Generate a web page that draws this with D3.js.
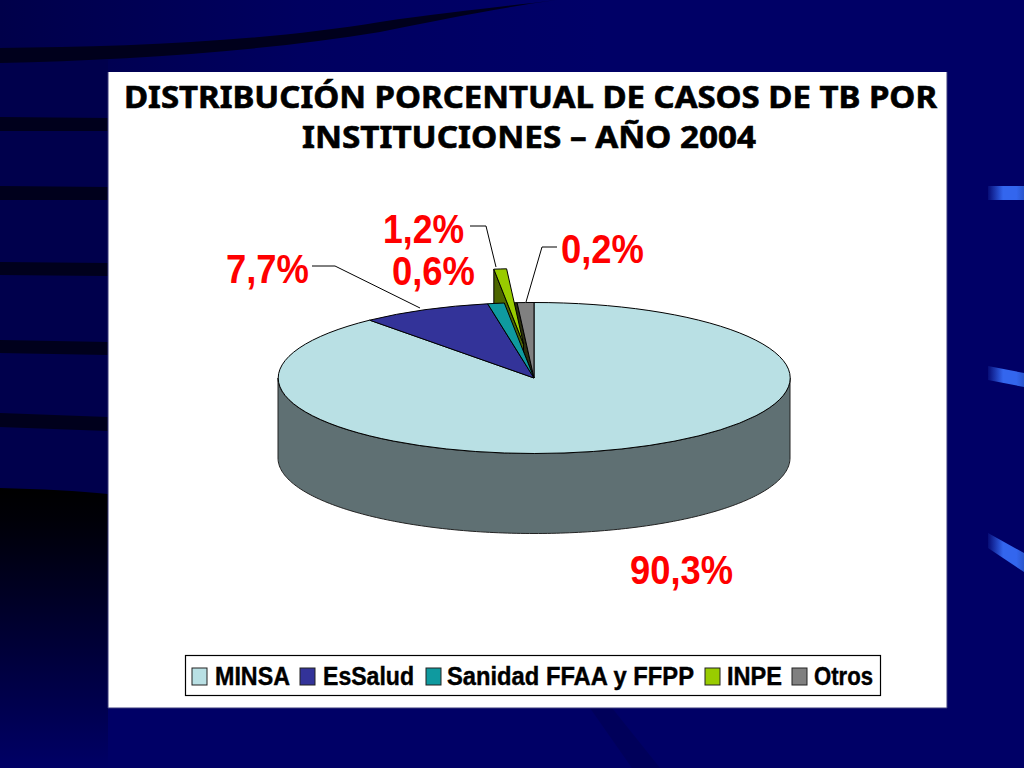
<!DOCTYPE html>
<html><head><meta charset="utf-8">
<script src="https://cdn.jsdelivr.net/npm/d3@7"></script>
<style>html,body{margin:0;padding:0;background:#000066;overflow:hidden}svg{display:block}</style>
</head><body><svg id="c" width="1024" height="768"></svg>
<script>
const categories = ["MINSA","EsSalud","Sanidad FFAA y FFPP","INPE","Otros"];
const printedValues = ["90,3%","7,7%","0,6%","1,2%","0,2%"];
const drawnShares = [88.9,8.2,1.05,0.8,1.05];
const topColors = ["#b9e0e4","#333399","#0f9a9f","#99cc00","#808080"];
const titleLines = ["DISTRIBUCIÓN PORCENTUAL DE CASOS DE TB POR","INSTITUCIONES – AÑO 2004"];
const explodedIndex = 3;

const svg = d3.select("#c");
const defs = svg.append("defs");
const vg = defs.append("linearGradient").attr("id","leftFade").attr("x1",0).attr("y1",0).attr("x2",0).attr("y2",1);
[[0,"#000000"],[0.12,"#000008"],[1,"#000066"]].forEach(s=>vg.append("stop").attr("offset",s[0]).attr("stop-color",s[1]));
const tg = defs.append("linearGradient").attr("id","topFade").attr("x1",0).attr("y1",0).attr("x2",1).attr("y2",0);
[[0,"#00004a"],[0.5,"#000060"],[1,"#000068"]].forEach(s=>tg.append("stop").attr("offset",s[0]).attr("stop-color",s[1]));
const bg = defs.append("linearGradient").attr("id","blob").attr("gradientUnits","userSpaceOnUse").attr("x1",986).attr("y1",0).attr("x2",1024).attr("y2",0);
[[0,"#000066"],[0.45,"#3366ee"],[0.8,"#3366ee"],[1,"#2a55cc"]].forEach(s=>bg.append("stop").attr("offset",s[0]).attr("stop-color",s[1]));

// background
svg.append("rect").attr("width",1024).attr("height",768).attr("fill","#000066");
svg.append("rect").attr("width",600).attr("height",72).attr("fill","url(#topFade)");
svg.append("rect").attr("y",60).attr("width",108).attr("height",440).attr("fill","#00004c");
svg.append("path").attr("d","M0,488 C40,489 80,491 108,494 L108,768 L0,768 Z").attr("fill","url(#leftFade)");
const dark = "#00001c";
svg.append("path").attr("fill",dark).attr("d","M0,48 C120,47 260,42 380,22 C450,12 510,6 556,0 C500,8 450,18 380,32 C260,52 120,60 0,63 Z");
[[117,131,118,131],[186,200,187,200],[262,275,263,276],[340,353,342,355],[413,427,417,431]].forEach(s=>{
  svg.append("path").attr("fill",dark).attr("d",`M0,${s[0]} L108,${s[2]} L108,${s[3]} L0,${s[1]} Z`);
});
svg.append("path").attr("fill","#00005a").attr("d","M590,708 L612,708 L660,768 L632,768 Z");
[[186,200,186,200],[366,380,373,387],[533,548,553,572]].forEach(s=>{
  svg.append("path").attr("fill","url(#blob)").attr("d",`M988,${s[0]} L1024,${s[2]} L1024,${s[3]} L988,${s[1]} Z`);
});

// panel
svg.append("rect").attr("x",108).attr("y",72).attr("width",839).attr("height",636).attr("fill","#ffffff");
svg.append("path").attr("d","M108,72 L108,708 L947,708 L947,72").attr("fill","none").attr("stroke","#3a3a7a").attr("stroke-width",1);

// title
const title = svg.append("g").attr("font-family","'Noto Sans'").attr("font-weight",700).attr("font-size",30).attr("fill","#000").attr("stroke","#000").attr("stroke-width",0.6);
const titleX = [[124,813],[302,454]];
const titleY = [108,148];
title.selectAll("text").data(titleLines).join("text")
  .attr("x",(d,i)=>titleX[i][0]).attr("y",(d,i)=>titleY[i])
  .attr("textLength",(d,i)=>titleX[i][1]).attr("lengthAdjust","spacingAndGlyphs").text(d=>d);

// pie
const cx=534, cy=378, rx=256, ry=75.5, depth=80, offset=0.45;
const pie = d3.pie().sort(null).startAngle(0).endAngle(2*Math.PI);
const slices = pie(drawnShares);
const arc = d3.arc().innerRadius(0).outerRadius(1);
const px = d3.scaleLinear().domain([-1,1]).range([cx-rx,cx+rx]);
const py = d3.scaleLinear().domain([-1,1]).range([cy-ry,cy+ry]);
const onRim = a => [px(Math.sin(a)), py(-Math.cos(a))];

// wall of the main body
const front = d3.range(90,270.5,1).map(d=>d*Math.PI/180);
const wallTop = front.map(onRim);
const wall = d3.line()(wallTop.concat(wallTop.slice().reverse().map(p=>[p[0],p[1]+depth])))+"Z";
svg.append("path").attr("d",wall).attr("fill","#5f7073").attr("stroke","#222").attr("stroke-width",1);

const ex = slices[explodedIndex];
const mid = (ex.startAngle+ex.endAngle)/2;
const dx = Math.sin(mid)*offset*rx, dy = -Math.cos(mid)*offset*ry;

const face = (s,fill,tx,ty)=>svg.append("path").attr("d",arc(s))
  .attr("transform",`translate(${tx},${ty}) scale(${rx},${ry})`)
  .attr("fill",fill).attr("stroke","#000").attr("stroke-width",1)
  .style("vector-effect","non-scaling-stroke");

// empty slot left by the pulled-out slice
face(ex,"#2b2f10",cx,cy);

// exploded slice side wall, seen above the rim of the pie
const ex2 = p=>[p[0]+dx,p[1]+dy];
const apex = ex2([cx,cy]), L = ex2(onRim(ex.startAngle));
svg.append("path").attr("d",d3.line()([L,apex,[apex[0],apex[1]+depth],[L[0],L[1]+depth]])+"Z")
  .attr("fill","#4d6600").attr("stroke","#000").attr("stroke-width",1);

// remaining top faces cover the lower part of that wall
slices.forEach((s,i)=>{ if(i!==explodedIndex) face(s,topColors[i],cx,cy); });
// exploded top face last
face(ex,topColors[explodedIndex],cx+dx,cy+dy);

// leaders
const leaders = [
  [[312,266],[335,266],[420,308]],
  [[470,226],[486,226],[496,267]],
  [[557,247],[542,247],[526,302]]
];
svg.append("g").selectAll("path").data(leaders).join("path").attr("d",d=>d3.line()(d))
  .attr("fill","none").attr("stroke","#000").attr("stroke-width",1);

// value labels
const labelBox = [[630,584,103],[226,283,83],[392,285,83],[383,243,81],[561,263,83]];
svg.append("g").attr("font-family","'Liberation Sans'").attr("font-weight",700).attr("font-size",41).attr("fill","#ff0000")
  .selectAll("text").data(printedValues).join("text")
  .attr("x",(d,i)=>labelBox[i][0]).attr("y",(d,i)=>labelBox[i][1])
  .attr("textLength",(d,i)=>labelBox[i][2]).attr("lengthAdjust","spacingAndGlyphs").text(d=>d);

// legend
svg.append("rect").attr("x",185.5).attr("y",655.5).attr("width",695).attr("height",40).attr("fill","#fff").attr("stroke","#000").attr("stroke-width",1.2);
const legendSwatch=[192,300,426,705,792], legendText=[215,323,447,727,814], legendW=[75,91,247,55,59];
const lg = svg.append("g").selectAll("g").data(categories).join("g");
lg.append("rect").attr("x",(d,i)=>legendSwatch[i]).attr("y",668).attr("width",15).attr("height",17)
  .attr("fill",(d,i)=>topColors[i]).attr("stroke","#222").attr("stroke-width",1);
lg.append("text").attr("x",(d,i)=>legendText[i]).attr("y",685)
  .attr("font-family","'Liberation Sans'").attr("font-weight",700).attr("font-size",25).attr("fill","#000").attr("stroke","#000").attr("stroke-width",0.4)
  .attr("textLength",(d,i)=>legendW[i]).attr("lengthAdjust","spacingAndGlyphs").text(d=>d);
</script></body></html>
